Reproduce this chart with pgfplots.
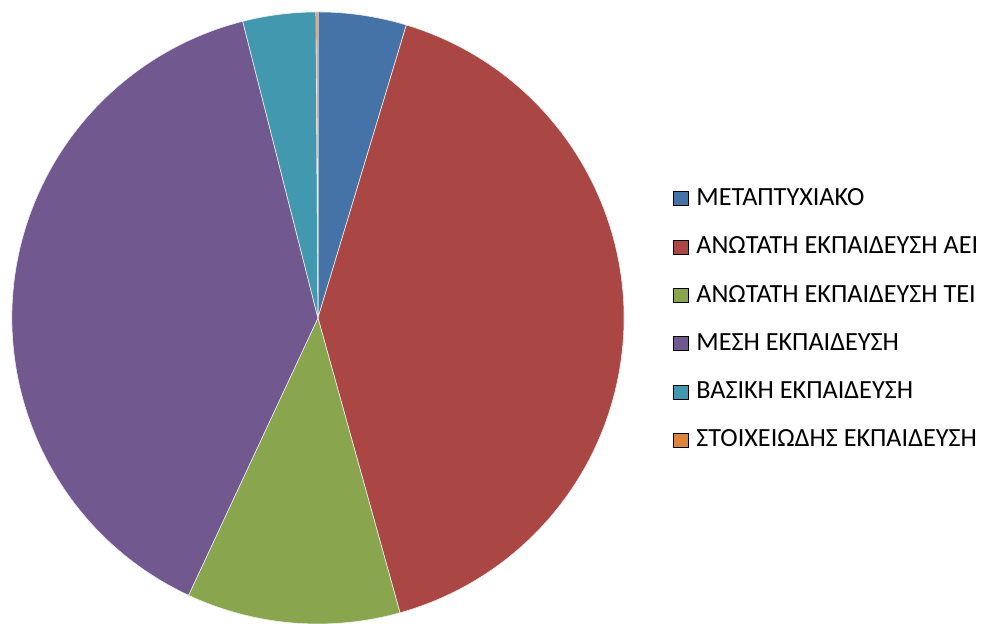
\documentclass[border=0pt]{standalone}
\usepackage{pgfplots}
\usepackage{pgfplotstable}
\pgfplotsset{compat=1.18}
\usepackage{fontspec}
\setmainfont{Carlito}
\definecolor{cA}{HTML}{4572A7}
\definecolor{cB}{HTML}{AA4643}
\definecolor{cC}{HTML}{89A54E}
\definecolor{cD}{HTML}{71588F}
\definecolor{cE}{HTML}{4198AF}
\definecolor{cF}{HTML}{DB843D}
\pgfplotstableread{
idx value
0 4.67
1 41.06
2 11.28
3 39.14
4 3.86
5 0.10
}\piedata
\begin{document}
\begin{tikzpicture}
% cumulative angles from the table (clockwise from the top)
\gdef\total{0}
\foreach \i in {0,...,5}{
  \pgfplotstablegetelem{\i}{value}\of\piedata
  \pgfmathsetmacro{\tmp}{\total+\pgfplotsretval}
  \xdef\total{\tmp}
}
\gdef\cum{0}
\foreach \i/\n in {0/a,1/b,2/c,3/d,4/e,5/f}{
  \pgfplotstablegetelem{\i}{value}\of\piedata
  \pgfmathsetmacro{\s}{90-360*(\cum/\total)}
  \pgfmathsetmacro{\newcum}{\cum+\pgfplotsretval}
  \pgfmathsetmacro{\e}{90-360*(\newcum/\total)}
  \pgfmathsetmacro{\xs}{cos(\s)}
  \pgfmathsetmacro{\ys}{sin(\s)}
  \expandafter\xdef\csname S\n\endcsname{\s}
  \expandafter\xdef\csname E\n\endcsname{\e}
  \expandafter\xdef\csname X\n\endcsname{\xs}
  \expandafter\xdef\csname Y\n\endcsname{\ys}
  \xdef\cum{\newcum}
}
\begin{axis}[
  x=306pt, y=306pt,
  xmin=-1.039, xmax=2.183, ymin=-0.997, ymax=1.039,
  axis line style={draw=none},
  ticks=none,
  clip=true,
  legend cell align=left,
  legend style={draw=none, fill=none, inner sep=0pt, outer sep=0pt,
    at={(axis cs:1.160,0.4224)}, anchor=north west,
    font=\fontsize{26.2}{28}\selectfont,
    row sep=26.25pt,
    nodes={inner sep=0pt, text height=17pt, text depth=5pt, font=\fontsize{26.2}{28}\selectfont},
    /tikz/every odd column/.append style={column sep=8pt}},
  legend image code/.code={\fill[#1] (0pt,-6pt) rectangle (15pt,8pt);},
]
\addlegendimage{fill=cA}\addlegendentry{ΜΕΤΑΠΤΥΧΙΑΚΟ}
\addlegendimage{fill=cB}\addlegendentry{ΑΝΩΤΑΤΗ ΕΚΠΑΙΔΕΥΣΗ ΑΕΙ}
\addlegendimage{fill=cC}\addlegendentry{ΑΝΩΤΑΤΗ ΕΚΠΑΙΔΕΥΣΗ ΤΕΙ}
\addlegendimage{fill=cD}\addlegendentry{ΜΕΣΗ ΕΚΠΑΙΔΕΥΣΗ}
\addlegendimage{fill=cE}\addlegendentry{ΒΑΣΙΚΗ ΕΚΠΑΙΔΕΥΣΗ}
\addlegendimage{fill=cF}\addlegendentry{ΣΤΟΙΧΕΙΩΔΗΣ ΕΚΠΑΙΔΕΥΣΗ}
\filldraw[fill=cA, draw=white!85!gray, line width=0.6pt] (axis cs:0,0) -- (axis cs:\Xa,\Ya) arc[start angle=\Sa, end angle=\Ea, radius=306pt] -- cycle;
\filldraw[fill=cB, draw=white!85!gray, line width=0.6pt] (axis cs:0,0) -- (axis cs:\Xb,\Yb) arc[start angle=\Sb, end angle=\Eb, radius=306pt] -- cycle;
\filldraw[fill=cC, draw=white!85!gray, line width=0.6pt] (axis cs:0,0) -- (axis cs:\Xc,\Yc) arc[start angle=\Sc, end angle=\Ec, radius=306pt] -- cycle;
\filldraw[fill=cD, draw=white!85!gray, line width=0.6pt] (axis cs:0,0) -- (axis cs:\Xd,\Yd) arc[start angle=\Sd, end angle=\Ed, radius=306pt] -- cycle;
\filldraw[fill=cE, draw=white!85!gray, line width=0.6pt] (axis cs:0,0) -- (axis cs:\Xe,\Ye) arc[start angle=\Se, end angle=\Ee, radius=306pt] -- cycle;
\filldraw[fill=cF, draw=white!85!gray, line width=0.6pt] (axis cs:0,0) -- (axis cs:\Xf,\Yf) arc[start angle=\Sf, end angle=\Ef, radius=306pt] -- cycle;
\end{axis}
\end{tikzpicture}
\end{document}
